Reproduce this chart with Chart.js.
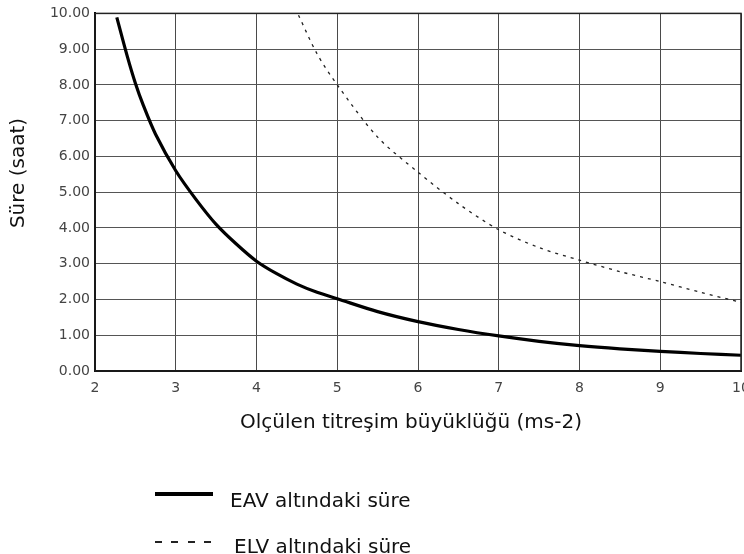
<!DOCTYPE html>
<html lang="tr">
<head>
  <meta charset="UTF-8">
  <title>Süre - titreşim</title>
  <style>
    body { margin: 0; background: #fff; }
    #wrap { position: relative; width: 744px; height: 554px; }
    .item { position: absolute; font: 20px "DejaVu Sans", sans-serif; color: #111; white-space: nowrap; line-height: 24px; }
    .sample { position: absolute; width: 58px; }
  </style>
</head>
<body>
  <div id="wrap">
    <canvas id="grafico" width="744" height="554"></canvas>
    <div id="legend"></div>
  </div>

  <script src="https://cdn.jsdelivr.net/npm/chart.js"></script>
  <script>
    // valores
    const xTicks = [2, 3, 4, 5, 6, 7, 8, 9, 10];
    const eavX = [2.27, 2.4, 2.5, 2.6, 2.75, 3, 3.25, 3.5, 3.75, 4, 4.25, 4.5, 4.75, 5, 5.5, 6, 6.5, 7, 7.5, 8, 8.5, 9, 9.5, 10];
    const eavY = [9.89, 8.8, 8.05, 7.42, 6.62, 5.6, 4.8, 4.1, 3.55, 3.07, 2.72, 2.43, 2.2, 2.02, 1.66, 1.38, 1.16, 0.98, 0.83, 0.71, 0.62, 0.55, 0.49, 0.44];
    const elvX = [4.52, 4.75, 5, 5.5, 6, 6.5, 7, 7.5, 8, 8.5, 9, 9.5, 10];
    const elvY = [9.95, 8.87, 8.0, 6.54, 5.56, 4.68, 3.95, 3.45, 3.1, 2.78, 2.5, 2.2, 1.92];
    const etiquetas = ['EAV altındaki süre', 'ELV altındaki süre'];
    const tituloY = 'Süre (saat)';
    const tituloX = 'Olçülen titreşim büyüklüğü (ms-2)';

    const puntos = (xs, ys) => xs.map((x, i) => ({ x: x, y: ys[i] }));

    const lienzo = document.querySelector("#grafico");
    const grafico = new Chart(lienzo, {
      type: 'line',
      data: {
        datasets: [
          {
            label: etiquetas[0],
            data: puntos(eavX, eavY),
            borderColor: '#000',
            borderWidth: 3.2,
            pointRadius: 0,
            tension: 0.3
          },
          {
            label: etiquetas[1],
            data: puntos(elvX, elvY),
            borderColor: '#222',
            borderWidth: 1.3,
            borderDash: [3, 5],
            pointRadius: 0,
            tension: 0.3
          }
        ]
      },
      options: {
        responsive: false,
        animation: false,
        layout: { padding: { left: 0, right: 3, top: 13, bottom: 117 } },
        plugins: { legend: { display: false }, tooltip: { enabled: false } },
        scales: {
          x: {
            type: 'linear',
            min: 2, max: 10,
            afterBuildTicks: s => { s.ticks = xTicks.map(v => ({ value: v })); },
            afterFit: s => { s.height = 66; s.paddingRight = 0; },
            grid: { color: '#4a4a4a', lineWidth: 1, drawTicks: false },
            border: { color: '#000', width: 2 },
            ticks: { color: '#444', font: { size: 14, family: 'DejaVu Sans' }, padding: 9, maxRotation: 0 }
          },
          y: {
            min: 0, max: 10,
            afterFit: s => { s.width = 95; },
            grid: { color: '#555', lineWidth: 1, drawTicks: false },
            border: { color: '#000', width: 2 },
            ticks: { stepSize: 1, color: '#444', font: { size: 14, family: 'DejaVu Sans' }, padding: 5,
                     callback: v => v.toFixed(2) }
          }
        }
      },
      plugins: [{
        id: 'marco',
        afterDatasetsDraw(chart) {
          const a = chart.chartArea, c = chart.ctx;
          c.save();
          c.strokeStyle = '#222';
          c.lineWidth = 1.5;
          c.strokeRect(a.left, a.top, a.right - a.left, a.bottom - a.top);
          c.fillStyle = '#111';
          c.textAlign = 'center';
          c.textBaseline = 'middle';
          // título del eje X
          c.font = '20px "DejaVu Sans"';
          c.fillText(tituloX, 411, 423);
          // título del eje Y
          c.translate(19, 173);
          c.rotate(-Math.PI / 2);
          c.fillText(tituloY, 0, 0);
          c.restore();
        }
      }]
    });

    // leyenda
    const leyenda = document.querySelector("#legend");
    const filas = [
      { y: 494, ds: grafico.data.datasets[0], textoX: 230, textoY: 488 },
      { y: 542, ds: grafico.data.datasets[1], textoX: 234, textoY: 534 }
    ];
    filas.forEach(f => {
      const linea = document.createElement("div");
      linea.className = "sample";
      linea.style.left = "155px";
      if (f.ds.borderDash) {
        linea.style.top = (f.y - 1) + "px";
        linea.style.height = "2px";
        linea.style.background = "repeating-linear-gradient(90deg, #222 0 7px, transparent 7px 16.5px)";
      } else {
        linea.style.top = (f.y - 2) + "px";
        linea.style.height = "4px";
        linea.style.background = "#000";
      }
      leyenda.appendChild(linea);
      const texto = document.createElement("div");
      texto.className = "item";
      texto.style.left = f.textoX + "px";
      texto.style.top = f.textoY + "px";
      texto.textContent = f.ds.label;
      leyenda.appendChild(texto);
    });
  </script>
</body>
</html>
